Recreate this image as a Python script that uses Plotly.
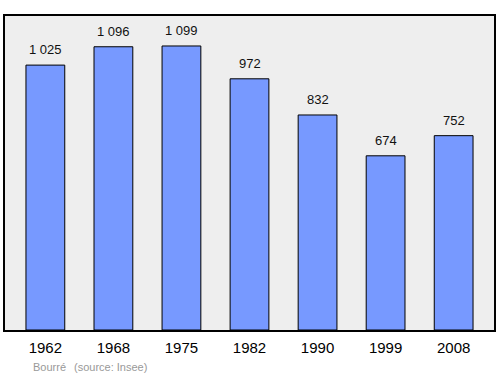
import plotly.graph_objects as go

years = ["1962", "1968", "1975", "1982", "1990", "1999", "2008"]
population = [1025, 1096, 1099, 972, 832, 674, 752]
value_labels = ["1 025", "1 096", "1 099", "972", "832", "674", "752"]

fig = go.Figure()
fig.add_trace(go.Bar(
    x=list(range(len(years))), y=population,
    width=0.57,
    marker=dict(color="#7799ff", line=dict(color="black", width=1)),
    hoverinfo="skip",
))
for i, (v, t) in enumerate(zip(population, value_labels)):
    fig.add_annotation(x=i, y=v, text=t, showarrow=False, yanchor="bottom",
                       yshift=6, font=dict(family="Liberation Sans, Arial", size=13, color="#111111"))

fig.add_annotation(xref="paper", yref="paper", x=0.053, y=-0.092, xanchor="left", yanchor="top",
                   text="Bourré", showarrow=False,
                   font=dict(family="Liberation Sans, Arial", size=11, color="#999999"))
fig.add_annotation(xref="paper", yref="paper", x=0.138, y=-0.092, xanchor="left", yanchor="top",
                   text="(source: Insee)", showarrow=False,
                   font=dict(family="Liberation Sans, Arial", size=11, color="#999999"))

fig.update_layout(
    width=500, height=374,
    margin=dict(l=5, r=4, t=16, b=44),
    paper_bgcolor="white", plot_bgcolor="#eeeeee",
    showlegend=False,
    xaxis=dict(range=[-0.593, 6.593], tickvals=list(range(len(years))), ticktext=years,
               showgrid=False, zeroline=False, showline=True, mirror=True,
               linecolor="black", linewidth=1.5, ticks="", ticklabelstandoff=3,
               tickfont=dict(family="Liberation Sans, Arial", size=15, color="black")),
    yaxis=dict(range=[0, 1215], showticklabels=False, showgrid=False, zeroline=False,
               showline=True, mirror=True, linecolor="black", linewidth=1.5, ticks=""),
)
fig.write_html("out.html")
